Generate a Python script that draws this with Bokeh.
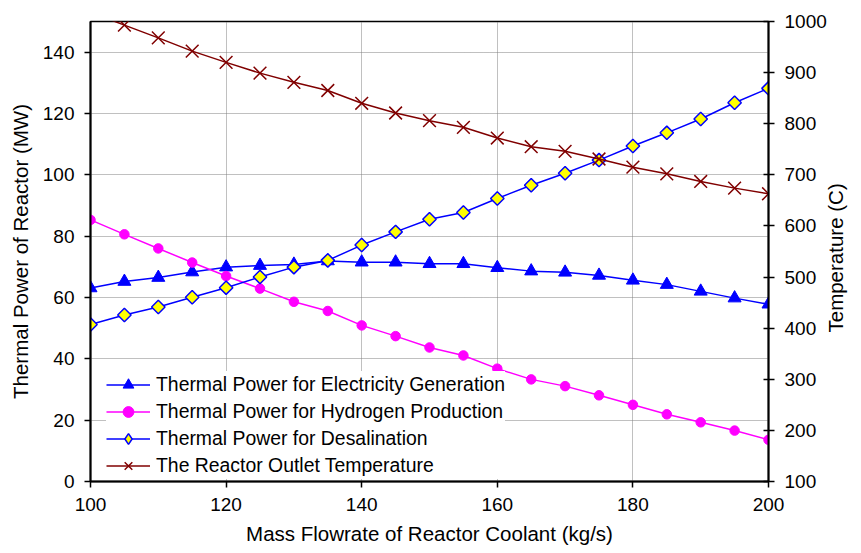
import math
from bokeh.plotting import figure
from bokeh.models import Range1d, LinearAxis, Legend, LegendItem, FixedTicker
from bokeh.embed import file_html
from bokeh.resources import INLINE

flowrate = [100, 105, 110, 115, 120, 125, 130, 135, 140, 145, 150,
            155, 160, 165, 170, 175, 180, 185, 190, 195, 200]
electricity = [63.1, 65.2, 66.5, 68.3, 69.9, 70.4, 70.8, 71.9, 71.5, 71.5, 71.0,
               71.0, 69.7, 68.6, 68.2, 67.2, 65.6, 64.2, 62.0, 59.8, 57.8]
hydrogen = [85.3, 80.6, 76.0, 71.4, 67.0, 62.9, 58.6, 55.6, 50.9, 47.4, 43.7,
            41.1, 36.8, 33.3, 31.1, 28.1, 25.0, 21.9, 19.3, 16.6, 13.6]
desalination = [51.2, 54.3, 56.9, 60.1, 63.2, 66.7, 69.9, 72.1, 77.1, 81.4, 85.5,
                87.7, 92.3, 96.6, 100.5, 104.8, 109.4, 113.7, 118.2, 123.5, 128.2]
temperature = [1018, 993, 968, 942, 920, 899, 881, 865, 840, 821, 806,
               793, 772, 755, 746, 731, 715, 702, 687, 674, 663]

x_ticks = [100, 120, 140, 160, 180, 200]
left_ticks = [0, 20, 40, 60, 80, 100, 120, 140]
right_ticks = [100, 200, 300, 400, 500, 600, 700, 800, 900, 1000]

labels = ["Thermal Power for Electricity Generation",
          "Thermal Power for Hydrogen Production",
          "Thermal Power for Desalination",
          "The Reactor Outlet Temperature"]
right_title_text = "Temperature (C)"

FONT = "Liberation Sans"

p = figure(width=861, height=553, output_backend="svg", toolbar_location=None,
           x_range=Range1d(100, 200), y_range=Range1d(0, 150),
           min_border_left=90, min_border_right=93, min_border_top=21,
           min_border_bottom=72)
p.extra_y_ranges = {"temp": Range1d(100, 1000)}
p.outline_line_color = "black"
p.outline_line_width = 1.5
p.background_fill_color = "white"
p.border_fill_color = "white"

blue = "#0000FF"
magenta = "#FF00FF"
darkred = "#800000"
yellow = "#FFFF00"

l1 = p.line(flowrate, electricity, line_color=blue, line_width=1.5)
m1 = p.scatter(flowrate, electricity, marker="triangle", size=13,
               fill_color=blue, line_color=blue)
l2 = p.line(flowrate, hydrogen, line_color=magenta, line_width=1.5)
m2 = p.scatter(flowrate, hydrogen, marker="circle", size=9.5,
               fill_color=magenta, line_color=magenta)
l3 = p.line(flowrate, desalination, line_color=blue, line_width=1.5)
m3 = p.scatter(flowrate, desalination, marker="square", angle=math.pi / 4, size=9.5,
               fill_color=yellow, line_color=blue, line_width=1.5)
m3_leg = p.scatter(flowrate, desalination, marker="diamond", size=14,
                   fill_color=yellow, line_color=blue, line_width=1.5, visible=False)
l4 = p.line(flowrate, temperature, line_color=darkred, line_width=1.5,
            y_range_name="temp")
m4 = p.scatter(flowrate, temperature, marker="x", size=18, line_color=darkred,
               line_width=1.5, y_range_name="temp")

right = LinearAxis(y_range_name="temp")
p.add_layout(right, "right")
# second, bare axis on the right whose single tick label is the title
title_pos = 391.5
right_title = LinearAxis(y_range_name="temp", ticker=FixedTicker(ticks=[title_pos]),
                         major_label_overrides={title_pos: right_title_text})
p.add_layout(right_title, "right")

p.xaxis.ticker = FixedTicker(ticks=x_ticks)
p.yaxis[0].ticker = FixedTicker(ticks=left_ticks)
right.ticker = FixedTicker(ticks=right_ticks)
p.xaxis.axis_label = "Mass Flowrate of Reactor Coolant (kg/s)"
p.yaxis[0].axis_label = "Thermal Power of Reactor (MW)"

for ax in [p.xaxis[0], p.yaxis[0], right, right_title]:
    ax.axis_line_color = "black"
    ax.axis_line_width = 2
    ax.major_tick_line_color = "black"
    ax.major_tick_line_width = 1.5
    ax.major_tick_out = 6
    ax.major_tick_in = 0
    ax.minor_tick_line_color = None
    ax.major_label_text_font = FONT
    ax.major_label_text_font_size = "19px"
    ax.major_label_text_color = "black"
    ax.major_label_standoff = 10
    ax.axis_label_text_font = FONT
    ax.axis_label_text_font_size = "20.5px"
    ax.axis_label_text_font_style = "normal"
    ax.axis_label_text_color = "black"
    ax.axis_label_standoff = 8
right.major_tick_in = 5

right_title.axis_line_color = None
right_title.major_tick_line_color = None
right_title.major_tick_out = 0
right_title.major_label_standoff = 6
right_title.major_label_text_font_size = "20.5px"
right_title.major_label_orientation = math.pi / 2

for g in [p.xgrid[0], p.ygrid[0]]:
    g.grid_line_color = "#808080"
    g.grid_line_dash = "1 1"
    g.grid_line_width = 1

legend = Legend(items=[LegendItem(label=labels[0], renderers=[l1, m1]),
                       LegendItem(label=labels[1], renderers=[l2, m2]),
                       LegendItem(label=labels[2], renderers=[l3, m3_leg]),
                       LegendItem(label=labels[3], renderers=[l4, m4])],
                location=(16, 2), margin=0, padding=3, spacing=0,
                glyph_width=44, glyph_height=27, label_height=26,
                label_standoff=6, label_text_font=FONT,
                label_text_font_size="19.4px", label_text_color="black",
                border_line_color=None, background_fill_color="white",
                background_fill_alpha=1.0)
p.add_layout(legend)

open("out.html", "w").write(file_html(p, INLINE))
